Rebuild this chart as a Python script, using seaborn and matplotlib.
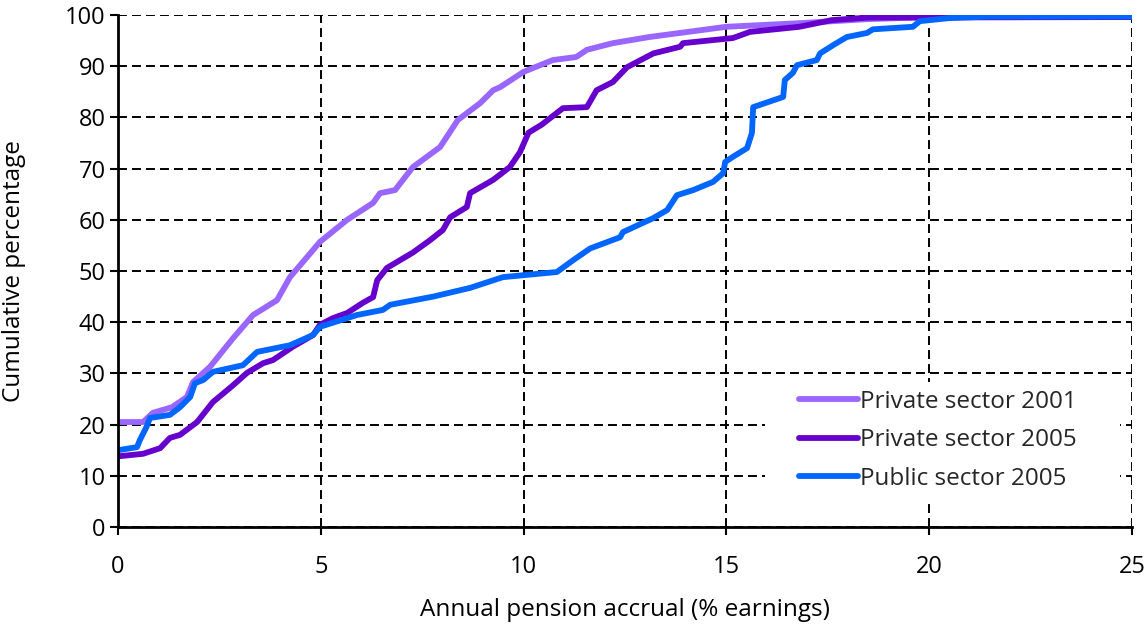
import matplotlib
matplotlib.use("Agg")
import matplotlib.pyplot as plt
import matplotlib.patches as mpatches
import seaborn as sns
import pandas as pd

# ---- data ----
priv01_x = [0, 0.62, 0.86, 1.33, 1.7, 1.85, 2.27, 2.84, 3.33, 3.92, 4.24, 4.81, 4.98, 5.65, 6.29,
            6.46, 6.83, 7.27, 7.94, 8.38, 8.93, 9.25, 9.42, 10.0, 10.72, 11.3, 11.56, 12.2, 13.1,
            13.86, 15.0, 16.8, 18.5, 19.7, 21.0, 25.0]
priv01_y = [20.5, 20.5, 22.3, 23.4, 25.4, 28.3, 31.3, 36.9, 41.4, 44.3, 48.8, 54.1, 55.7, 60.0, 63.3,
            65.2, 65.8, 70.3, 74.2, 79.5, 82.8, 85.3, 85.9, 88.9, 91.2, 91.8, 93.2, 94.5, 95.7,
            96.5, 97.7, 98.4, 99.2, 99.5, 99.6, 99.6]

priv05_x = [0, 0.62, 1.04, 1.28, 1.53, 1.95, 2.34, 2.84, 3.18, 3.58, 3.82, 4.31, 4.81, 4.98, 5.3,
            5.65, 6.04, 6.29, 6.39, 6.63, 7.27, 7.69, 8.01, 8.19, 8.6, 8.68, 9.25, 9.66, 9.91,
            10.12, 10.45, 10.97, 11.56, 11.8, 12.2, 12.55, 13.2, 13.86, 13.93, 15.16, 15.58, 16.8,
            17.6, 18.5, 25.0]
priv05_y = [13.8, 14.3, 15.4, 17.4, 18.0, 20.5, 24.4, 27.7, 30.1, 32.0, 32.6, 35.2, 37.5, 39.5, 40.8,
            41.8, 43.8, 44.9, 48.2, 50.6, 53.6, 56.0, 58.0, 60.5, 62.5, 65.2, 67.8, 70.3, 73.2,
            77.0, 78.6, 81.8, 82.0, 85.3, 86.9, 89.8, 92.5, 93.8, 94.5, 95.5, 96.7, 97.7,
            99.0, 99.5, 99.6]

pub05_x = [0, 0.47, 0.54, 0.7, 0.79, 1.28, 1.53, 1.78, 1.9, 2.1, 2.34, 3.08, 3.43, 4.24, 4.81, 4.98,
           5.89, 6.53, 6.71, 7.77, 8.68, 9.49, 10.82, 11.22, 11.64, 12.38, 12.45, 13.19, 13.54,
           13.78, 14.18, 14.67, 14.92, 14.97, 15.16, 15.51, 15.63, 15.66, 16.4, 16.44, 16.64,
           16.74, 17.23, 17.31, 17.63, 17.97, 18.47, 18.61, 19.6, 19.77, 20.5, 21.5, 25.0]
pub05_y = [15.0, 15.6, 17.0, 19.5, 21.3, 21.9, 23.4, 25.4, 28.1, 28.7, 30.3, 31.6, 34.2, 35.5, 37.5,
           39.1, 41.4, 42.4, 43.4, 45.0, 46.7, 48.8, 49.8, 52.1, 54.4, 56.6, 57.6, 60.3, 61.9,
           64.8, 65.8, 67.4, 69.1, 71.3, 72.3, 74.0, 77.0, 82.0, 84.0, 87.3, 88.7,
           90.2, 91.2, 92.5, 94.1, 95.7, 96.5, 97.2, 97.7, 98.8, 99.4, 99.7, 99.7]

series_names = ["Private sector 2001", "Private sector 2005", "Public sector 2005"]
colors = ["#9966FF", "#6600CC", "#0066FF"]
x_ticks = [0, 5, 10, 15, 20, 25]
y_ticks = [0, 10, 20, 30, 40, 50, 60, 70, 80, 90, 100]

df = pd.concat([
    pd.DataFrame({"x": priv01_x, "y": priv01_y, "series": series_names[0]}),
    pd.DataFrame({"x": priv05_x, "y": priv05_y, "series": series_names[1]}),
    pd.DataFrame({"x": pub05_x, "y": pub05_y, "series": series_names[2]}),
], ignore_index=True)

sns.set_theme(style="white")
plt.rcParams["font.family"] = ["Open Sans", "DejaVu Sans"]

fig = plt.figure(figsize=(11.44, 6.31), dpi=100)
ax = fig.add_axes([118 / 1144, 1 - 527 / 631, (1132 - 118) / 1144, (527 - 15) / 631])

sns.lineplot(data=df, x="x", y="y", hue="series", hue_order=series_names,
             palette=colors, linewidth=4.2, sort=False, estimator=None, ax=ax,
             solid_capstyle="round", solid_joinstyle="round")

ax.set_xlim(0, 25)
ax.set_ylim(0, 100)
ax.set_xticks(x_ticks)
ax.set_yticks(y_ticks)
ax.tick_params(axis="both", direction="out", length=6, width=1.5, color="black",
               labelsize=17, labelcolor="black", pad=3, bottom=True, left=True)
ax.tick_params(axis="x", pad=14)

ax.grid(True, color="black", linestyle=(0, (4.6, 2.6)), linewidth=1.4)
ax.set_axisbelow(True)
for side in ["top", "right"]:
    ax.spines[side].set_visible(False)
for side in ["left", "bottom"]:
    ax.spines[side].set_color("black")
    ax.spines[side].set_linewidth(2)

ax.set_xlabel("Annual pension accrual (% earnings)", fontsize=17.5, color="black", labelpad=14)
ax.set_ylabel("Cumulative percentage", fontsize=17.5, color="black", labelpad=28)

# white background box behind the legend (hides the grid there)
ax.add_patch(mpatches.Rectangle((0.638, 0.053), 0.35, 0.23, transform=ax.transAxes,
                                facecolor="white", edgecolor="none", zorder=1))

leg = ax.legend(loc="upper left", bbox_to_anchor=(0.672, 0.268), fontsize=17.5, frameon=False,
                handlelength=2.4, handletextpad=0.1, labelspacing=0.6, borderpad=0,
                borderaxespad=0)
for h in leg.get_lines():
    h.set_linewidth(4.2)
    h.set_solid_capstyle("round")

fig.savefig("out.png", dpi=100)
